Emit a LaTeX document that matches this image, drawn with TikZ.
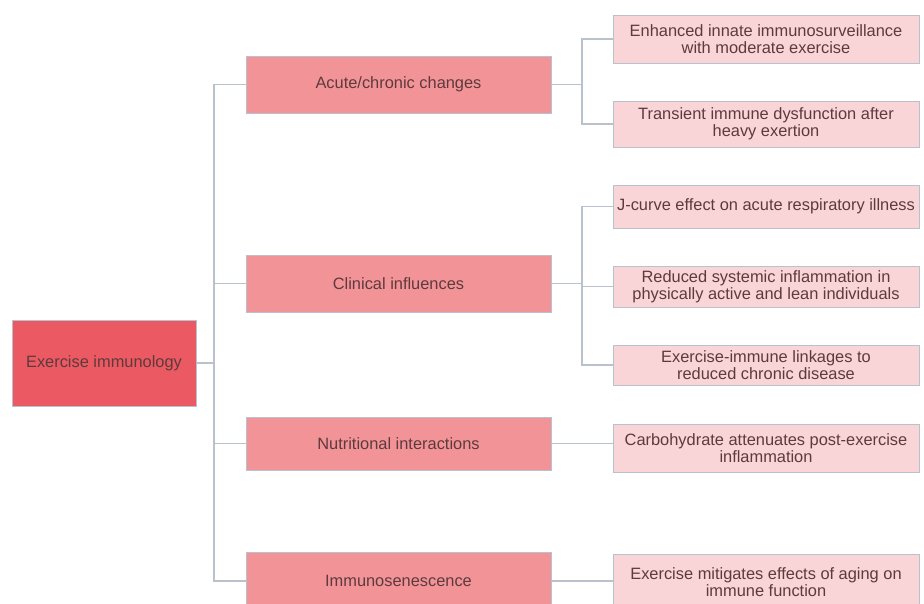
\documentclass[tikz,border=0pt]{standalone}
\usepackage{fontspec}
\setmainfont{Liberation Sans}
\definecolor{rootfill}{HTML}{EB5A62}
\definecolor{midfill}{HTML}{F29497}
\definecolor{leaffill}{HTML}{F9D5D7}
\definecolor{edgecol}{HTML}{B8C1CC}
\definecolor{txtcol}{HTML}{5E3A3D}
\begin{document}
\begin{tikzpicture}[x=1pt,y=-1pt,
  box/.style={draw=edgecol,line width=1pt,rectangle,inner sep=0pt,align=center,text=txtcol,
    font=\fontsize{16.4}{16.8}\selectfont},
  rootbox/.style={box,fill=rootfill,minimum width=184pt,minimum height=86pt},
  midbox/.style={box,fill=midfill,minimum width=305pt},
  leafbox/.style={box,fill=leaffill,minimum width=306pt},
  conn/.style={draw=edgecol,line width=1.2pt}]
\useasboundingbox (0,0) rectangle (924,603);
\node[rootbox] (root) at (104,363) {Exercise immunology};
\node[midbox,minimum height=57pt] (ac) at (398.5,84.5) {Acute/chronic changes};
\node[midbox,minimum height=57pt] (cl) at (398.5,283.5) {Clinical influences};
\node[midbox,minimum height=53pt] (nu) at (398.5,443.5) {Nutritional interactions};
\node[midbox,minimum height=58pt] (im) at (398.5,581) {Immunosenescence};
\node[leafbox,minimum height=48pt] (enh) at (766,39) {Enhanced innate immunosurveillance\\with moderate exercise};
\node[leafbox,minimum height=46pt] (tra) at (766,124) {Transient immune dysfunction after\\heavy exertion};
\node[leafbox,minimum height=43pt] (jc) at (766,206.5) {J-curve effect on acute respiratory illness};
\node[leafbox,minimum height=41pt] (red) at (766,286.5) {Reduced systemic inflammation in\\physically active and lean individuals};
\node[leafbox,minimum height=40pt] (lnk) at (766,365) {Exercise-immune linkages to\\reduced chronic disease};
\node[leafbox,minimum height=48pt] (carb) at (766,448) {Carbohydrate attenuates post-exercise\\inflammation};
\node[leafbox,minimum height=55pt] (mit) at (766,582) {Exercise mitigates effects of aging on\\immune function};
% root spine
\coordinate (sp) at (214,363);
\draw[conn] (root.east) -- (sp);
\foreach \n in {ac,cl,nu,im} \draw[conn] (sp) |- (\n.west);
% branches
\coordinate (b1) at (582,84.5);
\draw[conn] (ac.east) -- (b1);
\draw[conn] (b1) |- (enh.west);
\draw[conn] (b1) |- (tra.west);
\coordinate (b2) at (582,283.5);
\draw[conn] (cl.east) -- (b2);
\draw[conn] (b2) |- (jc.west);
\draw[conn] (b2) |- (red.west);
\draw[conn] (b2) |- (lnk.west);
\draw[conn] (nu.east) -- (nu.east -| carb.west);
\draw[conn] (im.east) -- (im.east -| mit.west);
\end{tikzpicture}
\end{document}
